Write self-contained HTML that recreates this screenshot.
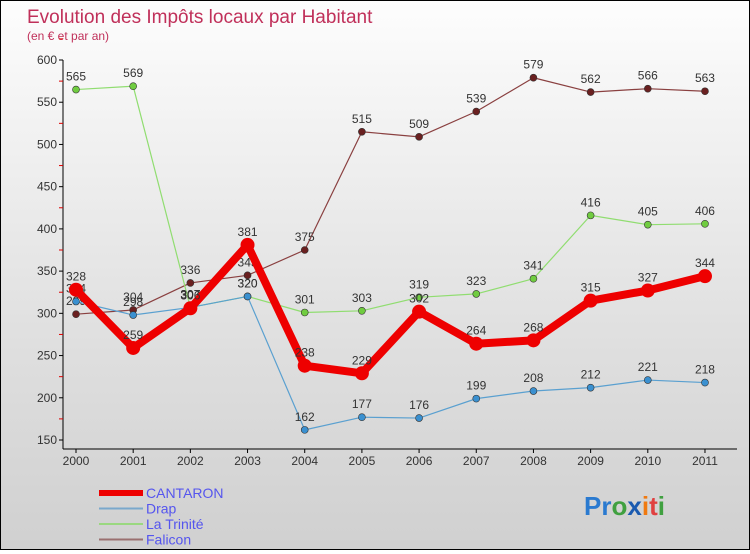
<!DOCTYPE html>
<html><head><meta charset="utf-8"><style>
html,body{margin:0;padding:0}
body{width:750px;height:550px;overflow:hidden;font-family:"Liberation Sans",sans-serif}
#wrap{position:relative;width:748px;height:548px;border:1px solid #000;background:linear-gradient(#fdfdfd,#e0e0e0 60%,#d0d0d0)}
</style></head><body>
<div id="wrap">
<svg id="chart" width="748" height="548" font-family="Liberation Sans, sans-serif">
<text x="26" y="22" font-size="19" fill="#c0305a">Evolution des Impôts locaux par Habitant</text>
<text x="26" y="39" font-size="12" fill="#c0305a">(en € et par an)</text>
<g id="grid"></g><g id="axes"></g><g id="series"></g><g id="legend"></g>
<text x="583" y="514" font-size="26" font-weight="bold"><tspan fill="#2a7ad0">Pr</tspan><tspan fill="#40a040">o</tspan><tspan fill="#1a5ab0">x</tspan><tspan fill="#f07a10">i</tspan><tspan fill="#e04040">t</tspan><tspan fill="#40a040">i</tspan></text>
</svg></div>
<script>
const years=["2000","2001","2002","2003","2004","2005","2006","2007","2008","2009","2010","2011"];
const cantaron=[328,259,306,381,238,229,302,264,268,315,327,344];
const drap=[314,298,307,320,162,177,176,199,208,212,221,218];
const trinite=[565,569,307,320,301,303,319,323,341,416,405,406];
const falicon=[299,304,336,345,375,515,509,539,579,562,566,563];
const yTicks=[150,200,250,300,350,400,450,500,550,600];
const NS="http://www.w3.org/2000/svg";
function X(i){return 75+i*57.18;}
function Y(v){return 59+(600-v)*380/450;}
function mk(tag,attrs,parent){const e=document.createElementNS(NS,tag);for(const k in attrs)e.setAttribute(k,attrs[k]);parent.appendChild(e);return e;}
const axes=document.getElementById('axes');
const ax=mk('line',{x1:62,y1:Y(600),x2:62,y2:448,stroke:'#000'},axes);


const bx=mk('line',{x1:62,y1:448,x2:736,y2:448,stroke:'#000'},axes);


yTicks.forEach(v=>{
  mk('line',{x1:58,y1:Y(v),x2:62,y2:Y(v),stroke:'#000'},axes);
  mk('line',{x1:58,y1:Y(v+25),x2:62,y2:Y(v+25),stroke:'#d00'},axes);
  const t=mk('text',{x:56,y:Y(v)+4,'font-size':12,'text-anchor':'end',fill:'#333'},axes);
  t.textContent=v;
  
  
});
years.forEach((y,i)=>{
  mk('line',{x1:X(i),y1:448,x2:X(i),y2:452,stroke:'#000'},axes);
  const t=mk('text',{x:X(i),y:464,'font-size':12,'text-anchor':'middle',fill:'#333'},axes);
  t.textContent=y;
  
  
});
const series=[
 {name:'falicon',data:falicon,color:'#6a2020',line:'#8a4040',w:1.2,r:3.5},
 {name:'trinite',data:trinite,color:'#70cc40',line:'#90dd70',w:1.2,r:3.5},
 {name:'drap',data:drap,color:'#3a90d0',line:'#5aa0d0',w:1.2,r:3.5},
 {name:'cantaron',data:cantaron,color:'#ee0000',line:'#ee0000',w:8,r:7}
];
const sg=document.getElementById('series');
series.forEach(s=>{
  const g=mk('g',{},sg);
  
  
  const pl=mk('polyline',{points:s.data.map((v,i)=>X(i)+','+Y(v)).join(' '),fill:'none',stroke:s.line,'stroke-width':s.w,'stroke-linejoin':'round'},g);
  
  
  s.data.forEach((v,i)=>{
    const c=mk('circle',{cx:X(i),cy:Y(v),r:s.r,fill:s.color,stroke:s.name==='cantaron'?'#ee0000':'#333','stroke-width':s.name==='cantaron'?0:0.6},g);
    
    
    const t=mk('text',{x:X(i),y:Y(v)-9,'font-size':12,'text-anchor':'middle',fill:'#333'},g);
    t.textContent=v;
    
    
  });
});
const lg=document.getElementById('legend');
const leg=[['CANTARON','#ee0000',6],['Drap','#7aa8cc',2],['La Trinité','#9ad880',2],['Falicon','#9a7070',2]];
leg.forEach((l,i)=>{
  const y=492+i*15.5;
  const g=mk('g',{},lg);
  
  
  mk('line',{x1:98,y1:y,x2:142,y2:y,stroke:l[1],'stroke-width':l[2]},g);
  const t=mk('text',{x:145,y:y+5,'font-size':14,fill:'#5555ee'},g);
  t.textContent=l[0];
});
</script>
</body></html>
